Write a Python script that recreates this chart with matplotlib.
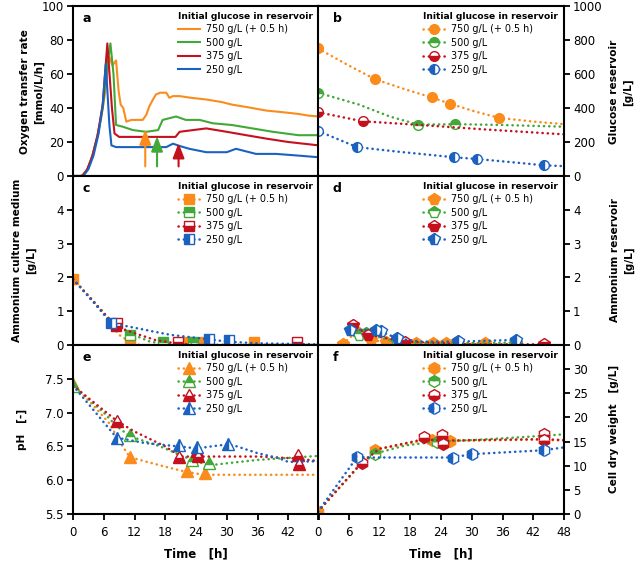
import matplotlib
matplotlib.use('Agg')
import matplotlib.pyplot as plt
from matplotlib.lines import Line2D

plt.rcParams['font.family'] = ['DejaVu Sans']

orange = '#fb8c1c'
green = '#42a838'
red = '#c5101e'
blue = '#1b62c0'

labels = ['750 g/L (+ 0.5 h)', '500 g/L', '375 g/L', '250 g/L']
colors = [orange, green, red, blue]
fills = ['full', 'top', 'bottom', 'left']
legend_title = 'Initial glucose in reservoir'

# ---- a: oxygen transfer rate
otr_t_750 = [0, 1.5, 2.5, 3.5, 4.5, 5.5, 6.3, 7.1, 7.7, 8.4, 8.9, 9.3, 9.8, 10.4, 11.4, 13.6, 14.3, 14.9, 15.6, 16.2, 17.0, 18.2, 18.8, 19.5, 20.8, 23.0, 26.0, 29.0, 31.0, 34.0, 37.7, 41.0, 44.0, 46.0, 48.0]
otr_y_750 = [0, 0, 2, 9, 20, 34, 50, 70, 65, 68, 50, 42, 40, 32, 33, 33, 36, 41, 45, 48, 49, 49, 46, 47, 47, 46, 45, 43.5, 42, 40.5, 38.5, 37.5, 36.5, 35.5, 35]
otr_t_500 = [0, 1.8, 2.8, 3.8, 4.8, 5.8, 6.5, 7.3, 7.9, 8.4, 9.7, 11.7, 14.3, 16.6, 17.5, 18.8, 20.1, 22.0, 24.7, 27.3, 31.0, 35.0, 39.0, 44.0, 48.0]
otr_y_500 = [0, 0, 4, 12, 24, 40, 60, 78, 60, 30, 29, 27, 26, 27, 33, 34, 35, 33, 33, 31, 30, 28, 26, 24, 24]
otr_t_375 = [0, 1.8, 2.8, 3.8, 4.8, 5.8, 6.7, 7.6, 8.1, 9.0, 14.0, 20.0, 20.8, 23.4, 26.0, 30.0, 33.8, 37.7, 42.0, 48.0]
otr_y_375 = [0, 0, 4, 12, 24, 42, 78, 40, 25, 23, 23, 23, 26, 27, 28, 26, 24, 22, 20, 18]
otr_t_250 = [0, 2.0, 3.0, 4.0, 5.0, 5.8, 6.4, 7.1, 7.5, 8.4, 14.0, 18.2, 19.5, 21.0, 22.7, 26.0, 30.0, 31.8, 35.7, 39.6, 44.0, 48.0]
otr_y_250 = [0, 0, 4, 12, 25, 42, 66, 30, 18, 17, 17, 17, 19, 17.5, 16, 14, 14, 16, 13, 13, 12, 11]
arrow_t = [14.1, 16.4, 20.6]
arrow_top = [29, 25, 21]

# ---- b: glucose reservoir
glc_t = [[0, 11.2, 22.2, 25.7, 35.3], [0, 19.6, 26.8], [0, 8.7], [0, 7.6, 26.6, 31.0, 44.0]]
glc_y = [[750, 568, 462, 426, 342], [490, 300, 305], [375, 322], [265, 170, 110, 100, 63]]
glc_fit_t = [[0, 6, 11.2, 17, 22.2, 25.7, 30, 35.3, 42, 48], [0, 8, 14, 19.6, 26.8, 36, 48], [0, 8.7, 20, 32, 48], [0, 7.6, 15, 26.6, 31, 40, 44, 48]]
glc_fit_y = [[750, 650, 568, 510, 462, 426, 385, 342, 320, 305], [490, 420, 350, 302, 305, 300, 290], [375, 322, 300, 275, 245], [265, 170, 145, 110, 100, 75, 63, 58]]

# ---- c: ammonium culture medium
nh4_t = [[0, 11.1, 22.2, 25.5, 35.3], [11.1, 17.5, 23.5], [8.4, 8.5, 20.4, 43.7], [7.5, 26.5, 30.4]]
nh4_y = [[1.95, 0.1, 0.08, 0.08, 0.08], [0.3, 0.1, 0.08], [0.56, 0.64, 0.08, 0.08], [0.66, 0.17, 0.15]]
nh4_fit_t = [[0, 4, 7, 9, 11, 13, 48], [0, 7.5, 11, 15, 18, 24, 48], [0, 8.4, 12, 16, 20, 24, 48], [0, 7.5, 9, 14, 19, 26.5, 30, 36, 48]]
nh4_fit_y = [[1.95, 1.3, 0.7, 0.3, 0.1, 0.0, 0.0], [1.95, 0.7, 0.35, 0.1, 0.03, 0.0, 0.0], [1.95, 0.55, 0.35, 0.15, 0.05, 0.0, 0.0], [1.95, 0.66, 0.6, 0.45, 0.3, 0.17, 0.1, 0.05, 0.02]]

# ---- d: ammonium reservoir
res_t = [[4.9, 7.5, 10.4, 13.3, 19.2, 22.4, 24.9, 26.7, 32.5], [8.0, 9.4, 15.4, 38.6], [6.8, 9.8, 17.0, 44.1], [6.2, 11.4, 12.3, 15.4, 27.3, 38.6]]
res_y = [[0.03, 0.4, 0.15, 0.08, 0.06, 0.05, 0.05, 0.05, 0.05], [0.3, 0.35, 0.08, 0.07], [0.6, 0.3, 0.1, 0.04], [0.45, 0.45, 0.4, 0.2, 0.13, 0.15]]
res_fit_t = [[4.9, 7.5, 10.4, 13.3, 19.2, 32.5], [8.0, 9.4, 15.4, 26, 38.6, 40], [6.8, 9.8, 17.0, 30, 44.1], [6.2, 11.4, 12.3, 15.4, 20, 27.3, 38.6]]
res_fit_y = [[0.03, 0.4, 0.15, 0.08, 0.06, 0.05], [0.3, 0.35, 0.08, 0.05, 0.07, 0.0], [0.6, 0.3, 0.1, 0.02, 0.02], [0.45, 0.45, 0.4, 0.2, 0.1, 0.1, 0.15]]

# ---- e: pH
ph_t = [[0, 11.1, 22.2, 25.7], [0, 11.1, 23.2, 26.6], [8.5, 20.6, 24.2, 24.3, 43.9, 44.0], [8.5, 20.6, 24.2, 30.2]]
ph_y = [[7.42, 6.34, 6.14, 6.10], [7.4, 6.67, 6.30, 6.25], [6.87, 6.35, 6.43, 6.36, 6.37, 6.24], [6.63, 6.52, 6.49, 6.54]]
ph_fit_t = [[0, 4, 7, 9.7, 11.1, 14, 18, 22.2, 25.7, 48], [0, 6, 8.5, 11.1, 17, 23.2, 26.6, 30, 36, 42, 48], [0, 8.5, 12, 18, 21, 26, 36, 44, 48], [0, 8.5, 14, 20.6, 24.2, 27, 30.2, 32, 36, 40, 42, 48]]
ph_fit_y = [[7.42, 7.1, 6.85, 6.5, 6.34, 6.28, 6.2, 6.12, 6.08, 6.08], [7.4, 7.0, 6.8, 6.65, 6.5, 6.3, 6.22, 6.25, 6.3, 6.33, 6.36], [7.4, 6.88, 6.72, 6.5, 6.35, 6.35, 6.35, 6.32, 6.28], [7.4, 6.63, 6.55, 6.5, 6.47, 6.5, 6.53, 6.5, 6.4, 6.33, 6.27, 6.28]]

# ---- f: cell dry weight
cdw_t = [[0, 11.2, 22.2, 25.7], [11.1, 23.2], [8.5, 20.7, 24.2, 24.3, 44.0, 44.1], [7.7, 26.3, 30.0, 44.0]]
cdw_y = [[0.5, 13.3, 15.4, 15.1], [12.5, 15.0], [10.6, 15.9, 16.3, 14.5, 16.5, 15.4], [11.9, 11.5, 12.4, 13.2]]
cdw_fit_t = [[0, 5, 8.5, 11.2, 17, 22.2, 25.7, 36, 42, 48], [0, 8, 11.1, 17, 23.2, 30, 38, 44, 48], [0, 8.5, 12, 20.7, 24.2, 30, 44, 48], [0, 7.7, 10, 26.3, 30, 44, 48]]
cdw_fit_y = [[0.5, 6.5, 10.5, 13.3, 14.5, 15.4, 15.1, 15.3, 15.4, 15.2], [0.5, 10, 12.5, 14.2, 15.0, 15.3, 15.8, 16.2, 16.5], [0.5, 10.6, 13.5, 15.5, 15.2, 15.3, 15.5, 15.3], [0.5, 11.9, 11.7, 11.7, 12.4, 13.2, 13.8]]

xticks = list(range(0, 49, 6))

fig = plt.figure(figsize=(6.38, 5.64), dpi=100)
L, R, W = 73 / 638, 318 / 638, 246 / 638
rows = [(1 - 176 / 564, 170 / 564), (1 - 345 / 564, 169 / 564), (1 - 514 / 564, 169 / 564)]
axa = fig.add_axes([L, rows[0][0], W, rows[0][1]])
axb = fig.add_axes([R, rows[0][0], W, rows[0][1]])
axc = fig.add_axes([L, rows[1][0], W, rows[1][1]])
axd = fig.add_axes([R, rows[1][0], W, rows[1][1]])
axe = fig.add_axes([L, rows[2][0], W, rows[2][1]])
axf = fig.add_axes([R, rows[2][0], W, rows[2][1]])

dot = (0, (0.1, 2.0))
LEG = dict(title=legend_title, loc='upper right', frameon=False, fontsize=6.9,
           title_fontproperties={'weight': 'bold', 'size': 6.6}, alignment='left',
           handletextpad=0.6, labelspacing=0.36, borderaxespad=0.2, borderpad=0.4)


def ylab(x, y, s):
    fig.text(x / 638, 1 - y / 564, s, rotation=90, ha='center', va='center',
             fontsize=7.6, fontweight='bold', linespacing=1.45)


def style(ax, right, bottom, letter):
    for s in ax.spines.values():
        s.set_linewidth(1.5)
    ax.set_xlim(0, 48)
    ax.set_xticks(xticks)
    ax.tick_params(axis='both', direction='out', length=4.5, width=1.3, labelsize=8.5, pad=2)
    ax.tick_params(axis='x', pad=4)
    if right:
        ax.yaxis.tick_right()
    if bottom:
        if right:
            ax.set_xticklabels([str(v) for v in xticks])
        else:
            ax.set_xticklabels([str(v) for v in xticks[:-1]] + [''])
        ax.set_xlabel('Time   [h]', fontsize=8.5, fontweight='bold', labelpad=6)
    else:
        ax.set_xticklabels([])
    ax.text(0.04 if not right else 0.06, 0.965, letter, transform=ax.transAxes,
            fontsize=9, fontweight='bold', va='top')


def scatter_panel(ax, ts, ys, fts, fys, marker, ms):
    for i in range(4):
        ax.plot(fts[i], fys[i], color=colors[i], lw=1.8, ls=dot, dash_capstyle='round')
        ax.plot(ts[i], ys[i], ls='none', marker=marker, ms=ms, color=colors[i],
                fillstyle=fills[i], markerfacecoloralt='white', mec=colors[i], mew=1.0)
    handles = [Line2D([], [], color=colors[i], lw=1.8, ls=dot, dash_capstyle='round',
                      marker=marker, ms=ms, fillstyle=fills[i], markerfacecoloralt='white',
                      mec=colors[i], mew=1.0)
               for i in range(4)]
    ax.legend(handles, labels, handlelength=2.3, **LEG)


# a
for t, y, c, lab in zip([otr_t_750, otr_t_500, otr_t_375, otr_t_250],
                        [otr_y_750, otr_y_500, otr_y_375, otr_y_250], colors, labels):
    axa.plot(t, y, color=c, lw=1.5, label=lab)
for t, top, c in zip(arrow_t, arrow_top, [orange, green, red]):
    axa.annotate('', xy=(t, top), xytext=(t, 4),
                 arrowprops=dict(arrowstyle='-|>,head_width=0.35,head_length=0.9', color=c, lw=1.5))
axa.set_ylim(0, 100)
axa.set_yticks(range(0, 101, 20))
style(axa, False, False, 'a')
axa.legend(handlelength=2.3, **LEG)
ylab(32, 92, 'Oxygen transfer rate\n[mmol/L/h]')

# b
scatter_panel(axb, glc_t, glc_y, glc_fit_t, glc_fit_y, 'o', 7)
axb.set_ylim(0, 1000)
axb.set_yticks(range(0, 1001, 200))
style(axb, True, False, 'b')
ylab(621, 92, 'Glucose reservoir\n[g/L]')

# c
scatter_panel(axc, nh4_t, nh4_y, nh4_fit_t, nh4_fit_y, 's', 6.5)
axc.set_ylim(0, 5)
axc.set_yticks(range(0, 5))
style(axc, False, False, 'c')
ylab(24, 260, 'Ammonium culture medium\n[g/L]')

# d
scatter_panel(axd, res_t, res_y, res_fit_t, res_fit_y, 'p', 8.5)
axd.set_ylim(0, 5)
axd.set_yticks(range(0, 5))
style(axd, True, False, 'd')
ylab(622, 260, 'Ammonium reservoir\n[g/L]')

# e
scatter_panel(axe, ph_t, ph_y, ph_fit_t, ph_fit_y, '^', 9)
axe.set_ylim(5.5, 8.0)
axe.set_yticks([5.5, 6.0, 6.5, 7.0, 7.5])
axe.set_yticklabels(['5.5', '6.0', '6.5', '7.0', '7.5'])
style(axe, False, True, 'e')
ylab(22, 429, 'pH   [-]')

# f
scatter_panel(axf, cdw_t, cdw_y, cdw_fit_t, cdw_fit_y, 'h', 8.5)
axf.set_ylim(0, 35)
axf.set_yticks(range(0, 31, 5))
style(axf, True, True, 'f')
ylab(614, 429, 'Cell dry weight   [g/L]')

fig.savefig('out.png', dpi=100)
